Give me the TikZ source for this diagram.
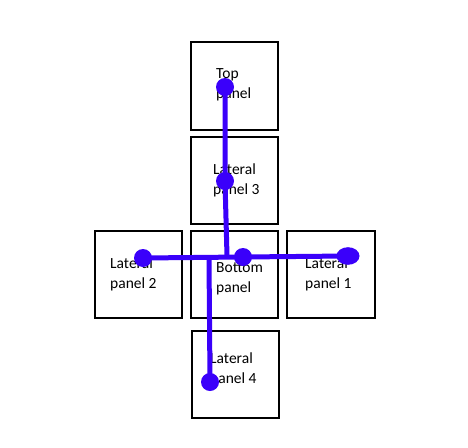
\documentclass[tikz,border=0pt]{standalone}
\usepackage{fontspec}
\setmainfont{Carlito}
\definecolor{wire}{RGB}{58,0,250}
\begin{document}
\begin{tikzpicture}[x=1pt,y=-1pt,
  panel/.style={draw=black,line width=1.8pt,fill=white},
  lbl/.style={anchor=base west,inner sep=0pt,font=\fontsize{15.5}{18}\selectfont},
  wireline/.style={draw=wire,line width=5pt},
  dot/.style={fill=wire}]
\fill[white] (0,0) rectangle (468,447);
\useasboundingbox (0,0) rectangle (468,447);
% panels
\path[panel] (191,42) rectangle (278,130) coordinate (topbox);
\path[panel] (191,137) rectangle (278,224) coordinate (l3box);
\path[panel] (191,231) rectangle (278,318) coordinate (botbox);
\path[panel] (95,231) rectangle (182,318) coordinate (l2box);
\path[panel] (287,231) rectangle (375,318) coordinate (l1box);
\path[panel] (192,331) rectangle (279,418) coordinate (l4box);
% labels
\node[lbl] (t1) at (216,78) {Top};
\node[lbl] (t2) at (216,98) {panel};
\node[lbl] (l3a) at (213,174) {Lateral};
\node[lbl] (l3b) at (213,194) {panel 3};
\node[lbl] (l2a) at (110,268) {Lateral};
\node[lbl] (l2b) at (110,288) {panel 2};
\node[lbl] (ba) at (216,272) {Bottom};
\node[lbl] (bb) at (216,292) {panel};
\node[lbl] (l1a) at (305,268) {Lateral};
\node[lbl] (l1b) at (305,288) {panel 1};
\node[lbl] (l4a) at (210,363) {Lateral};
\node[lbl] (l4b) at (210,383) {panel 4};
% connector points
\coordinate (pTop) at (225,87);
\coordinate (pL3) at (225,181);
\coordinate (pJ) at (227,256);
\coordinate (pL2) at (143,258);
\coordinate (pB) at (243,257);
\coordinate (pL1) at (348,256);
\coordinate (pJ2) at (209,258);
\coordinate (pL4) at (210,382);
% wires
\draw[wireline] (pTop) -- (pL3) -- (pJ);
\draw[wireline] (pL2) -- (pB) -- (pL1);
\draw[wireline] (pJ2) -- (pL4);
% dots
\fill[dot] (pTop) circle (9);
\fill[dot] (pL3) circle (9);
\fill[dot] (pL2) circle (9);
\fill[dot] (pB) circle (9);
\fill[dot] (pL4) circle (9);
\fill[dot] (pL1) ellipse (11.5 and 8.8);
\end{tikzpicture}
\end{document}
